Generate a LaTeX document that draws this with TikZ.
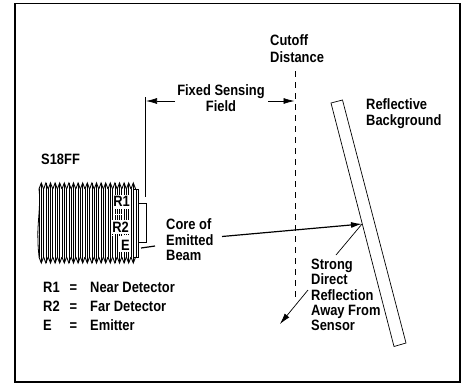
\documentclass[tikz,border=0pt]{standalone}
\usepackage{fontspec}
\setmainfont{Liberation Sans}[FakeStretch=0.86]
\usetikzlibrary{arrows.meta}
\tikzset{
  lbl/.style={font=\fontsize{15}{15.4}\selectfont\bfseries,align=left,inner sep=0pt,anchor=west},
  senselbl/.style={lbl,anchor=center,fill=white,inner xsep=0.5pt,inner ysep=0.5pt},
  beam/.style={line width=1.2pt},
  thin line/.style={line width=0.7pt},
  tip/.style={-{Latex[length=11pt,width=6pt]}}
}
\begin{document}
\begin{tikzpicture}[x=1pt,y=-1pt]
\useasboundingbox (0,0) rectangle (463,383);
\draw[line width=1.5pt] (15,3.5) rectangle (460,382);
\foreach \i in {0,...,20} {
  \pgfmathsetmacro{\xa}{39+4.6*\i}
  \pgfmathsetmacro{\xb}{\xa+2.3}
  \pgfmathsetmacro{\xc}{\xa+4.6}
  \draw[line width=0.9pt] (\xa,189)--(\xb,183)--(\xc,189);
  \draw[line width=0.9pt] (\xa,257)--(\xb,263)--(\xc,257);
  \draw[line width=0.7pt] (\xa,189)--(\xa,257);
  \draw[line width=0.7pt] (\xb,183)--(\xb,263);
}
\draw[line width=0.8pt] (39,189) .. controls (41,205) and (37,225) .. (38,240) .. controls (38,250) and (39,254) .. (39,257);
\draw[line width=0.7pt] (134,189)--(138,189)--(138,257)--(134,257);
\draw[line width=1.3pt] (136.5,189)--(136.5,257);
\draw[line width=0.8pt] (138,203)--(146,203)--(146,242)--(138,242);
\fill[white] (113,195) rectangle (131,209);
\fill[white] (112,220) rectangle (129,234);
\fill[white] (119,236) rectangle (131,252);
\draw[white,line width=1pt,dash pattern=on 1pt off 1pt] (113,214)--(131,214);
\draw[white,line width=1pt,dash pattern=on 1pt off 1pt] (112,235)--(131,235);
\node[senselbl] (r1) at (121.5,201.5) {R1};
\node[senselbl] (r2) at (120.5,227.5) {R2};
\node[senselbl] (e) at (125.5,245.5) {E};
\node[lbl] (sensor) at (41,159.5) {S18FF};
\node[lbl] (cutoff) at (270,48.5) {Cutoff\\[1.6pt]Distance};
\node[lbl,anchor=center,align=center] (field) at (221,98) {Fixed Sensing\\[0.6pt]Field};
\node[lbl] (background) at (366,113.5) {Reflective\\Background};
\node[lbl] (core) at (166,240) {Core of\\Emitted\\Beam};
\node[lbl] (direct) at (311,295) {Strong\\Direct\\Reflection\\Away From\\Sensor};
\node[lbl] (near) at (43,287.5) {R1};
\node[lbl] (neareq) at (69.5,288.5) {=};
\node[lbl] (neartxt) at (90,287.5) {Near Detector};
\node[lbl] (far) at (43,306.5) {R2};
\node[lbl] (fareq) at (69.5,307.5) {=};
\node[lbl] (fartxt) at (90,306.5) {Far Detector};
\node[lbl] (emit) at (43,325.5) {E};
\node[lbl] (emiteq) at (69.5,326.5) {=};
\node[lbl] (emittxt) at (90,325.5) {Emitter};
\coordinate (fieldtop) at (145,97);
\coordinate (fieldbot) at (145,197);
\coordinate (fieldl) at (146,101);
\coordinate (fieldla) at (175,101);
\coordinate (fieldr) at (294.5,101);
\coordinate (fieldra) at (268,101);
\coordinate (cuttop) at (295,71);
\coordinate (cutbot) at (295,298);
\coordinate (lensout) at (141,248);
\coordinate (lensend) at (155,246);
\coordinate (beamstart) at (222,236.5);
\coordinate (hit) at (362,224);
\coordinate (bounce) at (336,255);
\coordinate (away) at (308,290);
\coordinate (awayend) at (280,324);
\draw[line width=0.8pt] (fieldtop)--(fieldbot);
\draw[thin line,tip] (fieldla)--(fieldl);
\draw[thin line,tip] (fieldra)--(fieldr);
\draw[line width=0.7pt,dash pattern=on 6pt off 5pt] (cuttop)--(cutbot);
\draw[beam] (lensout)--(lensend);
\draw[beam,tip] (beamstart)--(hit);
\draw[thin line] (hit)--(bounce);
\draw[thin line,tip] (away)--(awayend);
\draw[line width=0.7pt] (331,103)--(342.5,100)--(406,343)--(394,346.5)--cycle;
\end{tikzpicture}
\end{document}
